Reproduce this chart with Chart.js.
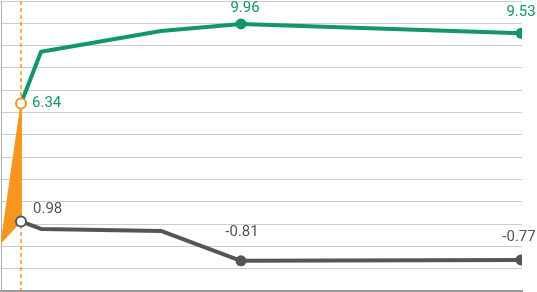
<!DOCTYPE html>
<html>
<head>
<meta charset="utf-8">
<script src="https://cdn.jsdelivr.net/npm/chart.js@4/dist/chart.umd.min.js"></script>
<style>
  html, body { margin: 0; padding: 0; background: #fff; }
  #wrap { width: 537px; height: 292px; }
</style>
</head>
<body>
<div id="wrap"><canvas id="chart"></canvas></div>
<script>
// x positions of the points (periods)
const periodos = [1, 2, 8, 12, 26];
const serieVerde = [6.34, 8.69, 9.64, 9.96, 9.53];
const serieGris = [0.98, 0.64, 0.55, -0.81, -0.77];
// which points carry a value label
const conEtiqueta = [0, 3, 4];
// orange wedge: from zero at the origin to the first value of each series
const origen = 0;

const VERDE = '#12966a', GRIS = '#555555', NARANJA = '#f7961e';
const Y_MIN = -2.18, Y_MAX = 11.0, N_GRID = 13;

const pts = arr => arr.map((v, i) => ({ x: periodos[i], y: v }));

// label offsets relative to the point (style only)
const offVerde = { 0: [11, 0, 'left'], 3: [4, -16, 'center'], 4: [0, -21, 'center'] };
const offGris = { 0: [12, -12, 'left'], 3: [1, -29, 'center'], 4: [-2, -23, 'center'] };

const etiquetas = {
  id: 'etiquetas',
  beforeDatasetsDraw(chart) {
    const { ctx, chartArea, scales } = chart;
    const x = Math.round(scales.x.getPixelForValue(periodos[0]));
    ctx.save();
    ctx.strokeStyle = NARANJA; ctx.lineWidth = 1.5; ctx.setLineDash([4, 3]);
    ctx.beginPath(); ctx.moveTo(x, chartArea.top); ctx.lineTo(x, chartArea.bottom); ctx.stroke();
    ctx.restore();
  },
  afterDatasetsDraw(chart) {
    const { ctx, scales } = chart;
    ctx.save();
    ctx.font = '15px Roboto';
    ctx.textBaseline = 'middle';
    [[serieVerde, VERDE, offVerde], [serieGris, GRIS, offGris]].forEach(([serie, color, off]) => {
      conEtiqueta.forEach(i => {
        const px = scales.x.getPixelForValue(periodos[i]);
        const py = scales.y.getPixelForValue(serie[i]);
        const o = off[i];
        ctx.fillStyle = color;
        ctx.textAlign = o[2];
        ctx.fillText(serie[i].toFixed(2), px + o[0], py + o[1]);
      });
    });
    ctx.restore();
  }
};

const radio = ctx => (ctx.dataIndex === 0 ? 5 : (ctx.dataIndex >= 3 ? 4.5 : 0));

new Chart(document.getElementById('chart'), {
  type: 'line',
  data: {
    datasets: [
      { data: [{ x: 0, y: origen }, { x: periodos[0], y: serieVerde[0] }, { x: periodos[0], y: serieGris[0] }, { x: 0, y: origen }],
        borderColor: NARANJA, borderWidth: 1, pointRadius: 0, fill: 'shape', backgroundColor: NARANJA, order: 5 },
      { data: pts(serieVerde), borderColor: VERDE, borderWidth: 4, order: 1,
        pointRadius: radio, pointBorderWidth: 2,
        pointBackgroundColor: c => c.dataIndex === 0 ? '#fff' : VERDE,
        pointBorderColor: c => c.dataIndex === 0 ? NARANJA : VERDE },
      { data: pts(serieGris), borderColor: GRIS, borderWidth: 4, order: 2,
        pointRadius: radio, pointBorderWidth: 2,
        pointBackgroundColor: c => c.dataIndex === 0 ? '#fff' : GRIS,
        pointBorderColor: GRIS }
    ]
  },
  options: {
    responsive: true, maintainAspectRatio: false, animation: false,
    layout: { autoPadding: false, padding: { left: 1, right: 15, top: 1, bottom: 1 } },
    plugins: { legend: { display: false }, tooltip: { enabled: false } },
    elements: { line: { tension: 0, borderJoinStyle: 'round' } },
    scales: {
      x: { type: 'linear', min: 0, max: 26.05, ticks: { display: false },
        grid: { display: false, drawTicks: false },
        border: { display: true, color: '#999', width: 2 } },
      y: { min: Y_MIN, max: Y_MAX, ticks: { display: false },
        afterBuildTicks: ax => { ax.ticks = Array.from({ length: N_GRID + 1 }, (_, i) => ({ value: Y_MIN + i * (Y_MAX - Y_MIN) / N_GRID })); },
        grid: { color: '#cccccc', drawTicks: false },
        border: { display: true, color: '#aaa', width: 1 } }
    }
  },
  plugins: [etiquetas]
});
</script>
</body>
</html>
